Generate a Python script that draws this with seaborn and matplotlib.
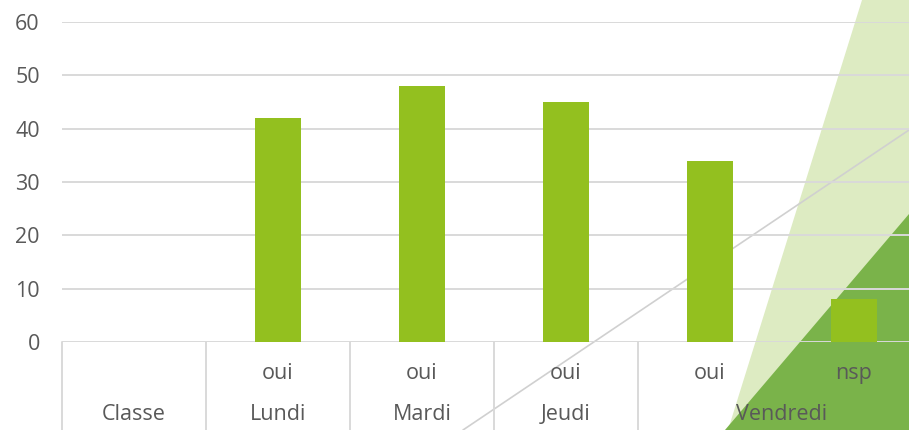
import matplotlib
matplotlib.use("Agg")
import matplotlib.pyplot as plt
from matplotlib.patches import Polygon
from matplotlib.lines import Line2D
import pandas as pd
import seaborn as sns

# ----------------------------------------
# Data
# ----------------------------------------

days = ["Lundi", "Mardi", "Jeudi", "Vendredi", "Vendredi"]
answers = ["oui", "oui", "oui", "oui", "nsp"]
values = [42, 48, 45, 34, 8]
first_label = "Classe"
y_ticks = [0, 10, 20, 30, 40, 50, 60]

keys = [d + "|" + a for d, a in zip(days, answers)]
order = [first_label] + keys
df = pd.DataFrame({"key": keys, "value": values})

text_col = "#595959"
grid_col = "#d9d9d9"
bar_col = "#93c01f"
fs = 15.5

sns.set_style("white")
plt.rcParams["font.family"] = ["Open Sans", "DejaVu Sans"]

fig = plt.figure(figsize=(9.09, 4.3), dpi=100)
W, H = 909, 430


def fx(px, py):
    return (px / W, 1 - py / H)


# ----------------------------------------
# Background decoration
# ----------------------------------------

fig.add_artist(Polygon([fx(862, 0), fx(909, 0), fx(909, 430), fx(728, 430)],
                       closed=True, transform=fig.transFigure,
                       facecolor="#ddebc2", edgecolor="none", zorder=0))
fig.add_artist(Polygon([fx(909, 214), fx(909, 430), fx(725, 430)],
                       closed=True, transform=fig.transFigure,
                       facecolor="#7ab34a", edgecolor="none", zorder=0))
x0, y0 = fx(463, 430)
x1, y1 = fx(909, 130)
fig.add_artist(Line2D([x0, x1], [y0, y1], transform=fig.transFigure,
                      color="#d0d0d0", lw=1.2, zorder=0.5))

# ----------------------------------------
# Bars
# ----------------------------------------

ax = fig.add_axes([62 / W, 1 - 342 / H, 864 / W, 320 / H])
ax.patch.set_alpha(0)
ax.set_zorder(1)

sns.barplot(data=df, x="key", y="value", order=order, color=bar_col,
            width=0.32, saturation=1, linewidth=0, ax=ax, zorder=3)

ax.set_ylim(0, 60)
ax.set_xlim(-0.5, len(order) - 0.5)
ax.set_yticks(y_ticks)
ax.set_yticklabels([str(t) for t in y_ticks], color=text_col, fontsize=fs)
ax.tick_params(axis="y", length=0, pad=16)
ax.set_xticks([])
ax.set_xlabel("")
ax.set_ylabel("")
for s in ax.spines.values():
    s.set_visible(False)
for t in y_ticks:
    ax.axhline(t, color=grid_col, lw=1.4, zorder=1)

# ----------------------------------------
# Multi-level category axis
# ----------------------------------------

tr = ax.get_xaxis_transform()
for i, a in enumerate([""] + answers):
    ax.text(i, -0.097, a, transform=tr, ha="center", va="center",
            color=text_col, fontsize=fs)

groups = [first_label] + days
spans = []
for i, g in enumerate(groups):
    if spans and spans[-1][0] == g:
        spans[-1][2] = i
    else:
        spans.append([g, i, i])
for g, a, b in spans:
    ax.text((a + b) / 2, -0.228, g, transform=tr, ha="center", va="center",
            color=text_col, fontsize=fs)
    ax.plot([a - 0.5, a - 0.5], [0, -0.3], transform=tr, color=grid_col,
            lw=1.4, clip_on=False)

fig.savefig("out.png", dpi=100)
